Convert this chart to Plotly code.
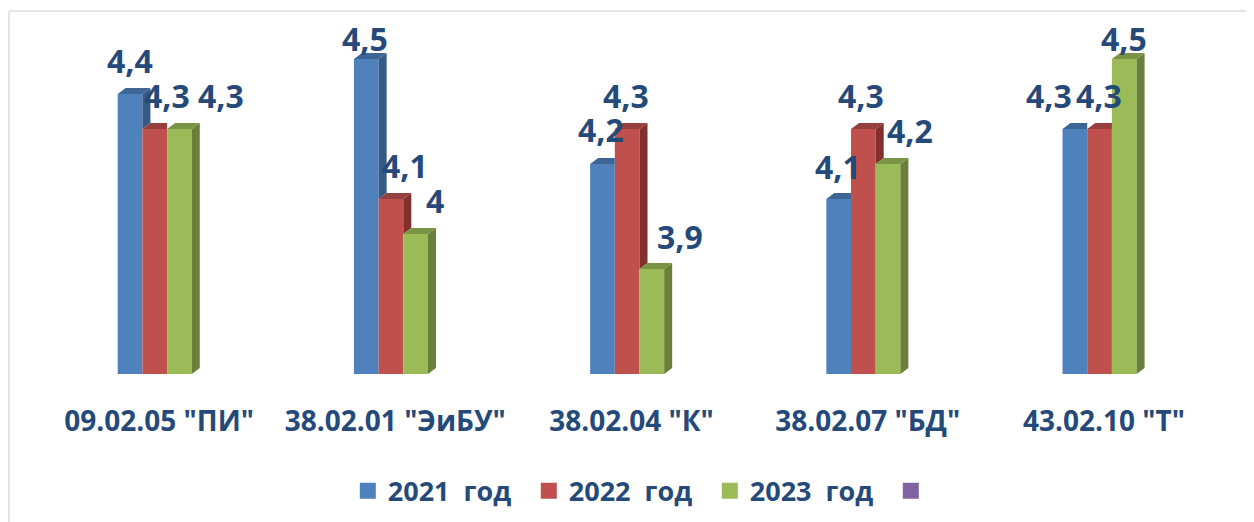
import plotly.graph_objects as go

categories = ['09.02.05 "ПИ"', '38.02.01 "ЭиБУ"', '38.02.04 "К"', '38.02.07 "БД"', '43.02.10 "Т"']
values_2021 = [4.4, 4.5, 4.2, 4.1, 4.3]
values_2022 = [4.3, 4.1, 4.3, 4.3, 4.3]
values_2023 = [4.3, 4.0, 3.9, 4.2, 4.5]
series_names = ["2021\u00a0\u00a0год", "2022\u00a0\u00a0год", "2023\u00a0\u00a0год", "\u00a0"]
label_texts = {
    0: ["4,4", "4,5", "4,2", "4,1", "4,3"],
    1: ["4,3", "4,1", "4,3", "4,3", "4,3"],
    2: ["4,3", "4", "3,9", "4,2", "4,5"],
}

# styling
front = ["#4F81BD", "#C0504D", "#9BBB59", "#8064A2"]
side = ["#355A85", "#822F2D", "#6A7F3A"]
top = ["#3D6596", "#963F3C", "#7A9445"]
TEXT = "#254A7A"
FONT = "Open Sans"
BASE, YMAX = 3.6, 4.6114
BAR_W = 0.1045
DX, DY = 8 / 236.2, 6 / 350
label_shift_x = {
    0: [0, -1, -1, -1, -26],
    1: [12, 14, -1, -2, -1],
    2: [42, 19, 28, 22, 0],
}
label_shift_y = {
    0: [33, 20, 34, 33, 33],
    1: [33, 34, 33, 33, 33],
    2: [33, 34, 33, 33, 20],
}

series = [values_2021, values_2022, values_2023]
fig = go.Figure()

for s, vals in enumerate(series):
    fig.add_trace(go.Bar(x=list(range(len(categories))), y=[v - BASE for v in vals], base=BASE,
                         name=series_names[s], marker=dict(color=front[s], line=dict(width=0)),
                         showlegend=False, hoverinfo="skip"))
fig.add_trace(go.Bar(x=list(range(len(categories))), y=[None] * 5, name=series_names[3],
                     marker=dict(color=front[3]), showlegend=False, hoverinfo="skip"))

for s, vals in enumerate(series):
    nxt = series[s + 1] if s < 2 else None
    sx, sy, tx, ty = [], [], [], []
    for i, v in enumerate(vals):
        x0 = i + (s - 2) * BAR_W
        x1 = x0 + BAR_W
        n = nxt[i] if nxt else BASE
        if n < v:
            sx += [x1, x1 + DX, x1 + DX, x1, x1, None]
            sy += [v, v + DY, n + DY, n, v, None]
            tx += [x0, x0 + DX, x1 + DX, x1, x0, None]
        else:
            tx += [x0, x0 + DX, x1, x1, x0, None]
        ty += [v, v + DY, v + DY, v, v, None]
    fig.add_trace(go.Scatter(x=sx, y=sy, mode="lines", line=dict(width=0), fill="toself",
                             fillcolor=side[s], showlegend=False, hoverinfo="skip"))
    fig.add_trace(go.Scatter(x=tx, y=ty, mode="lines", line=dict(width=0), fill="toself",
                             fillcolor=top[s], showlegend=False, hoverinfo="skip"))

for s in range(4):
    fig.add_trace(go.Scatter(x=[None], y=[None], mode="markers", name=series_names[s],
                             marker=dict(symbol="square", size=19, color=front[s])))

for s, vals in enumerate(series):
    for i, v in enumerate(vals):
        fig.add_annotation(x=i + (s - 1.5) * BAR_W, y=v, xref="x", yref="y", text=label_texts[s][i],
                           showarrow=False, xshift=label_shift_x[s][i], yshift=label_shift_y[s][i],
                           font=dict(family=FONT, size=32, color=TEXT, weight=700),
                           xanchor="center", yanchor="middle")

fig.add_shape(type="line", xref="paper", yref="paper", x0=-0.0338, x1=1.0195, y0=1.0254, y1=1.0254,
              line=dict(color="#E4E4E4", width=2))
fig.add_shape(type="line", xref="paper", yref="paper", x0=-0.0338, x1=-0.0338, y0=-0.418, y1=1.0254,
              line=dict(color="#E4E4E4", width=2))

fig.update_layout(
    width=1246, height=514, autosize=False, barmode="group", bargap=0.582, bargroupgap=0,
    margin=dict(l=41, r=24, t=12, b=148, autoexpand=False), paper_bgcolor="white", plot_bgcolor="white",
    showlegend=True,
    legend=dict(orientation="h", x=0.2530, y=-0.262, xanchor="left", yanchor="top",
                entrywidth=136, entrywidthmode="pixels", itemsizing="trace",
                font=dict(family=FONT, size=27, color=TEXT, weight=700)),
    xaxis=dict(type="linear", range=[-0.5, 4.5], tickmode="array", tickvals=list(range(5)), ticktext=categories,
               ticks="outside", ticklen=22, tickcolor="rgba(0,0,0,0)", ticklabelshift=-8,
               tickfont=dict(family=FONT, size=28, color=TEXT, weight=700), showgrid=False, zeroline=False, showline=False),
    yaxis=dict(range=[BASE, YMAX], visible=False),
)
fig.write_html("out.html")
